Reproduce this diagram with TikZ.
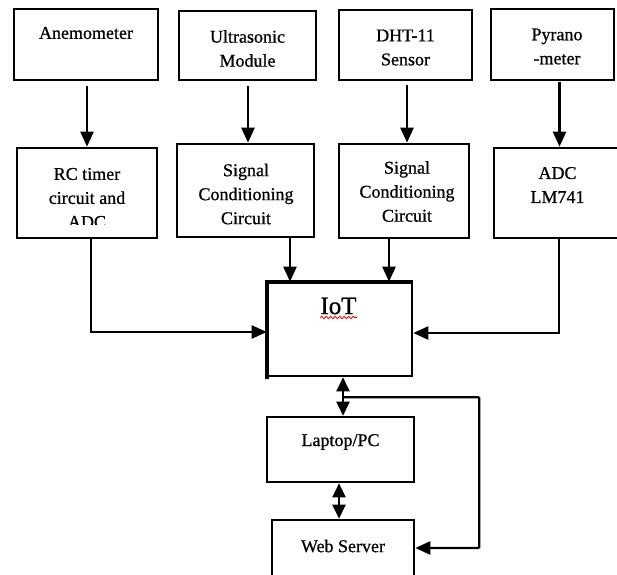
\documentclass[tikz,border=0pt]{standalone}
\usepackage{fontspec}
\setmainfont{Liberation Serif}[RawFeature={embolden=0.7}]
\usetikzlibrary{arrows.meta,calc,decorations.pathmorphing}
\begin{document}
\begin{tikzpicture}[x=1pt,y=-1pt,
  box/.style={draw,line width=2.6pt,inner sep=0pt,fill=white},
  txt/.style={align=center,inner sep=0pt,font=\fontsize{18}{24}\selectfont},
  arr/.style={line width=2.3pt,-{Triangle[length=15pt,width=13pt]}},
  darr/.style={line width=2.3pt,{Triangle[length=14pt,width=13pt]}-{Triangle[length=14pt,width=13pt]}},
  ln/.style={line width=2.3pt}]
\useasboundingbox (0,0) rectangle (617,574);
% top row
\node[box,minimum width=144,minimum height=71] (an) at (86,44.5) {};
\node[box,minimum width=137,minimum height=69] (us) at (247.5,45.5) {};
\node[box,minimum width=133,minimum height=70] (dh) at (405.5,45) {};
\node[box,minimum width=123,minimum height=71] (py) at (552.5,44.5) {};
\node[txt] (tan) at (86,33) {Anemometer};
\node[txt] (tus) at (247.5,48.5) {Ultrasonic\\Module};
\node[txt] (tdh) at (405.5,47.5) {DHT-11\\Sensor};
\node[txt] (tpy) at (557,46.5) {Pyrano\\-meter};
% second row
\node[box,minimum width=140,minimum height=90] (rc) at (87,193) {};
\node[box,minimum width=137,minimum height=93] (s1) at (245.5,190.5) {};
\node[box,minimum width=130,minimum height=94] (s2) at (404,191) {};
\node[box,minimum width=126,minimum height=90] (ad) at (557,193) {};
\begin{scope}
  \clip (18,149) rectangle (156,224.5);
  \node[txt] (trc) at (87,198) {RC timer\\circuit and\\ADC};
\end{scope}
\node[txt] (ts1) at (246,194) {Signal\\Conditioning\\Circuit};
\node[txt] (ts2) at (407,191.5) {Signal\\Conditioning\\Circuit};
\node[txt] (tad) at (557.5,185) {ADC\\LM741};
% IoT
\node[box,minimum width=144,minimum height=93] (iot) at (340,329.5) {};
\draw[line width=4pt] ([yshift=-2pt]iot.south west) -- (iot.north west) -- (iot.north east);
\node[inner sep=0pt,font=\fontsize{25}{28}\selectfont] (tiot) at (338.5,306) {IoT};
\draw[red,line width=0.8pt,decoration={snake,amplitude=1.3pt,segment length=4.5pt},decorate]
  ([xshift=0pt,yshift=-3pt]tiot.south west) -- ([xshift=0pt,yshift=-3pt]tiot.south east);
% bottom
\node[box,minimum width=147,minimum height=65] (lap) at (340.5,449.5) {};
\node[box,minimum width=142,minimum height=56] (web) at (343,548) {};
\node[txt] (tlap) at (340.5,442) {Laptop/PC};
\node[txt] (tweb) at (343,546) {Web Server};
% arrows top to second row
\draw[arr,shorten <=5pt] ([xshift=1pt]an.south) -- ([xshift=1pt]an.south |- rc.north);
\draw[arr,shorten <=5pt] ([xshift=0.5pt]us.south) -- ([xshift=0.5pt]us.south |- s1.north);
\draw[arr,shorten <=4pt] ([xshift=1.5pt]dh.south) -- ([xshift=1.5pt]dh.south |- s2.north);
\draw[arr,shorten <=1pt] ([xshift=7pt]py.south) -- ([xshift=7pt]py.south |- ad.north);
% second row to IoT
\draw[arr] ([xshift=44.5pt]s1.south) -- ([xshift=44.5pt]s1.south |- iot.north);
\draw[arr] ([xshift=-15pt]s2.south) -- ([xshift=-15pt]s2.south |- iot.north);
\draw[arr] ([xshift=4pt]rc.south) |- ([yshift=-2.5pt]iot.west);
\draw[arr] ([xshift=2pt]ad.south) |- ([yshift=-3.5pt]iot.east);
% IoT - laptop - web
\draw[darr] ([xshift=3pt]iot.south) -- ([xshift=3pt]iot.south |- lap.north);
\draw[darr] ([xshift=-1.5pt]lap.south) -- ([xshift=-1.5pt]lap.south |- web.north);
\coordinate (fb) at ([xshift=3pt,yshift=-20pt]iot.south);
\draw[arr,rounded corners=1pt] (fb) -- ([xshift=64pt]lap.east |- fb) |- (web.east);
\end{tikzpicture}
\end{document}
